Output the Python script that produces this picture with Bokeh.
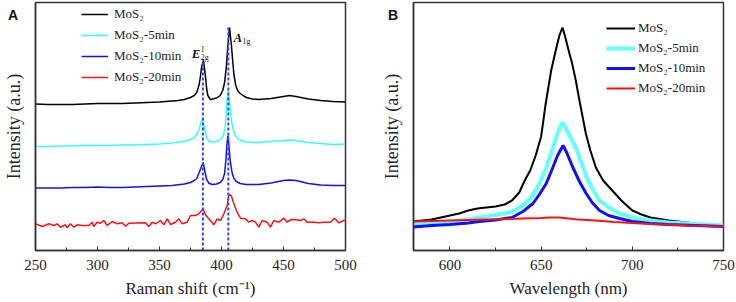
from bokeh.plotting import figure
from bokeh.layouts import row
from bokeh.models import Range1d, Label, Legend, LegendItem, SingleIntervalTicker, FixedTicker, Div
from bokeh.embed import file_html
from bokeh.resources import INLINE

# ---------------- Panel A : Raman ----------------
raman_black_x = [250, 260, 270, 280, 290, 300, 310, 320, 330, 340, 350, 360, 365, 370, 375, 378, 380, 382, 383, 384, 385.5, 387, 388, 389, 391, 393, 396, 399, 401, 402.5, 404, 405, 406.5, 408, 409, 410, 411.5, 413, 415, 418, 420, 425, 430, 440, 450, 455, 460, 470, 480, 490, 500]
raman_black_y = [146.5, 146, 146, 146, 146.5, 147, 147, 147, 147.5, 148, 148.5, 149.5, 150, 151, 153, 155, 158, 166, 174, 184, 190, 175, 162, 155, 151, 151.5, 152.5, 155, 160, 168, 185, 203, 223, 205, 190, 176, 165, 160, 157, 154.5, 153, 151.5, 151, 152, 154, 155, 154, 151.5, 150, 149, 148.5]

raman_cyan_x = [250, 260, 270, 280, 290, 300, 310, 320, 330, 340, 350, 360, 370, 375, 378, 380, 382, 383.5, 384.5, 386, 388, 390, 393, 396, 399, 401, 402.5, 403.5, 404.5, 405.3, 406.5, 408, 409.5, 411, 413, 416, 420, 430, 440, 450, 455, 460, 470, 480, 490, 500]
raman_cyan_y = [104, 104, 104.5, 104.5, 105, 105, 105, 105.5, 105.5, 106, 106.5, 107.5, 109, 111, 113, 116, 122, 128, 131, 124, 113, 109, 108.5, 109, 111, 114, 120, 132, 150, 160, 148, 130, 120, 115, 112, 110, 108.5, 108, 109, 110, 110.5, 110, 108, 107, 106, 106.5]

raman_blue_x = [250, 260, 270, 280, 290, 300, 310, 320, 330, 340, 350, 360, 370, 375, 378, 380, 382, 383.5, 385.2, 386.5, 388, 390, 393, 396, 399, 401, 402.5, 403.5, 404.5, 405.2, 406, 407, 408.5, 410, 412, 415, 420, 430, 440, 450, 455, 460, 470, 480, 490, 500]
raman_blue_y = [62.5, 62.5, 62.5, 63, 63, 63.5, 63, 63, 63.5, 64, 64.5, 65, 66.5, 68, 70, 72, 78, 83, 88, 80, 71, 67, 66, 66.5, 68, 71, 77, 90, 108, 115, 105, 90, 78, 72, 69, 67, 66, 66, 67.5, 70, 70.5, 70, 67, 65.5, 65, 65]

raman_red_x = [250, 255.4, 260.8, 264.8, 267.5, 270.2, 274.2, 275.5, 278.2, 280.9, 283.6, 287.6, 293, 295.7, 297, 299.7, 302.4, 305.1, 307.8, 311.8, 315.9, 319.9, 322.6, 325.3, 338.7, 341.4, 344.1, 346.8, 350.8, 353.5, 356.2, 358.9, 362.9, 365.6, 368.3, 372.3, 375, 379, 381.7, 385.2, 387, 389.8, 393.8, 396.5, 399.2, 401.9, 404.6, 405.9, 407.8, 410, 412.6, 415.3, 419.4, 422, 424.7, 427.4, 430.1, 432.8, 436.8, 439.5, 442.2, 446.2, 450.3, 453, 455.6, 459.7, 463.7, 466.4, 469.1, 474.5, 478.5, 482.5, 487.9, 491.1, 494.6, 498.7, 500]
raman_red_y = [26.7, 24, 26.7, 25, 26.7, 23.3, 25.7, 22.7, 26.7, 23.3, 25.7, 25, 25, 28.3, 24, 28.3, 27.3, 30, 25, 29, 26.7, 27.7, 24.3, 27.3, 27.7, 24, 28.3, 26.7, 30, 25.7, 31.7, 26, 28.3, 31.7, 26.7, 28.3, 35, 35, 36.7, 41.7, 35.7, 31.7, 25.7, 31.7, 30, 36.7, 45, 55.7, 55, 46.7, 38.3, 32.3, 31.7, 28.3, 30, 28.3, 23.3, 30, 28.3, 23.3, 30, 28.3, 32.3, 28.3, 30.7, 31, 30, 31.7, 28.3, 28.3, 27.7, 28.3, 28.3, 32.3, 27.7, 30, 30.3]

peak_pos = [385, 405.5]
peak_top = [191, 225]
raman_ticks = [250, 300, 350, 400, 450, 500]

# ---------------- Panel B : PL ----------------
pl_black_x = [580, 590, 600, 605, 610, 615, 620, 625, 630, 634, 638, 641, 644, 647, 650, 652.5, 655.5, 658, 660, 661.7, 663, 665.5, 667, 669, 671, 674.5, 677, 680, 684, 689, 694, 700, 705, 710, 720, 730, 740, 750]
pl_black_y = [29, 31, 35, 37, 40, 42, 43, 44, 46, 50, 58, 70, 80, 95, 114, 147, 180, 200, 215, 223, 215, 197, 187, 170, 150, 117, 100, 83, 70, 60, 50, 40, 36, 33, 30, 28, 26, 25]

pl_cyan_x = [580, 590, 600, 610, 616, 625, 634, 640, 644, 647, 649, 651, 653, 655, 657, 659, 661.5, 663, 665, 667, 669, 672, 675, 678, 682, 687, 693, 702, 710, 720, 730, 740, 750]
pl_cyan_y = [26, 27.5, 29, 31, 33, 35.5, 38.5, 45, 52, 60, 67, 75, 84, 95, 106, 117, 128, 124, 117, 110, 103, 88, 73, 62, 50, 43, 37, 32, 30, 28, 27, 26, 25]

pl_blue_x = [580, 590, 600, 610, 616, 625, 634, 640, 645.5, 649, 652.8, 656.4, 659, 662, 664, 667.4, 671, 674.7, 678, 682, 687, 693, 700, 710, 720, 735, 750]
pl_blue_y = [23.5, 25, 26, 27.5, 29, 30.5, 33, 39, 47, 56, 67, 83, 95, 105, 98, 83, 69, 57, 48, 40, 35, 32, 29, 27, 26, 25, 24]

pl_red_x = [580, 590, 600, 610, 620, 630, 640, 650, 655, 660, 665, 670, 680, 690, 700, 710, 720, 730, 740, 750]
pl_red_y = [29, 29.5, 30, 30.5, 31, 31.5, 32, 32.5, 33, 33, 32, 31, 30, 28.5, 27.5, 26.5, 26, 25, 24.5, 24]

pl_ticks = [600, 650, 700, 750]

labels = ["MoS\u2082", "MoS\u2082-5min", "MoS\u2082-10min", "MoS\u2082-20min"]
panel_letters = ["A", "B"]
colors = ["#000000", "#33FFFF", "#1010FF", "#FF1010"]

SERIF = "Liberation Serif"


def style(p, ticks, ylab_standoff):
    p.outline_line_color = "#333333"
    p.outline_line_width = 1.5
    p.xgrid.visible = False
    p.ygrid.visible = False
    p.background_fill_color = "white"
    p.border_fill_color = "white"
    ax = p.xaxis[0]
    ax.ticker = SingleIntervalTicker(interval=50, num_minor_ticks=2)
    ax.major_tick_in = 4
    ax.major_tick_out = 0
    ax.minor_tick_in = 3
    ax.minor_tick_out = 0
    ax.axis_line_width = 1.5
    ax.axis_line_color = "#333333"
    ax.major_tick_line_color = "#333333"
    ax.minor_tick_line_color = "#333333"
    ax.major_label_text_font = SERIF
    ax.major_label_text_font_size = "15px"
    ax.major_label_text_color = "#222222"
    ax.major_label_standoff = 9
    ax.axis_label_text_font = SERIF
    ax.axis_label_text_font_size = "17px"
    ax.axis_label_text_font_style = "normal"
    ax.axis_label_text_color = "#222222"
    ax.axis_label_standoff = 6
    ay = p.yaxis[0]
    ay.ticker = FixedTicker(ticks=[])
    ay.axis_line_width = 1.5
    ay.axis_line_color = "#333333"
    ay.axis_label = "Intensity (a.u.)"
    ay.axis_label_text_font = SERIF
    ay.axis_label_text_font_size = "18px"
    ay.axis_label_text_font_style = "normal"
    ay.axis_label_text_color = "#222222"
    ay.axis_label_standoff = ylab_standoff
    ay.major_tick_out = 0
    ay.major_tick_in = 0
    ay.minor_tick_out = 0
    ay.minor_tick_in = 0


# Panel A
pa = figure(width=370, height=302, output_backend="svg", toolbar_location=None,
            x_range=Range1d(250, 500), y_range=Range1d(0, 248),
            min_border_left=35, min_border_right=25, min_border_top=2, min_border_bottom=52,
            x_axis_label="Raman shift (cm\u207b\u00b9)")
style(pa, raman_ticks, 12)

ra = []
ra.append(pa.line(raman_black_x, raman_black_y, line_color=colors[0], line_width=1.5))
ra.append(pa.line(raman_cyan_x, raman_cyan_y, line_color=colors[1], line_width=1.5))
ra.append(pa.line(raman_blue_x, raman_blue_y, line_color=colors[2], line_width=1.5))
ra.append(pa.line(raman_red_x, raman_red_y, line_color=colors[3], line_width=1.5))
pa.segment(x0=peak_pos, y0=[0, 0], x1=peak_pos, y1=peak_top,
           line_color="#3344FF", line_width=2, line_dash="3 2")

legA = Legend(items=[LegendItem(label=l, renderers=[r]) for l, r in zip(labels, ra)],
              location=(46, 165), orientation="vertical")
legA.border_line_color = None
legA.background_fill_alpha = 0
legA.glyph_width = 27
legA.glyph_height = 16
legA.label_standoff = 6
legA.spacing = 5
legA.padding = 0
legA.margin = 0
legA.label_text_font = SERIF
legA.label_text_font_size = "13px"
legA.label_text_color = "#222222"
legA.label_height = 16
pa.add_layout(legA, "center")

lab_kw = dict(text_font=SERIF, text_color="#111111", text_baseline="middle")
pa.add_layout(Label(x=376, y=197, text="E", text_font_size="13px", text_font_style="bold italic", **lab_kw))
pa.add_layout(Label(x=376, y=197, x_offset=9, y_offset=5, text="1", text_font_size="8px", **lab_kw))
pa.add_layout(Label(x=376, y=197, x_offset=9, y_offset=-4, text="2g", text_font_size="8px", **lab_kw))
pa.add_layout(Label(x=409.7, y=213, text="A", text_font_size="13px", text_font_style="bold italic", **lab_kw))
pa.add_layout(Label(x=409.7, y=213, x_offset=9, y_offset=-4, text="1g", text_font_size="8px", **lab_kw))

# Panel B
pb = figure(width=366, height=302, output_backend="svg", toolbar_location=None,
            x_range=Range1d(580, 750), y_range=Range1d(0, 248),
            min_border_left=43, min_border_right=13, min_border_top=2, min_border_bottom=52,
            x_axis_label="Wavelength (nm)")
style(pb, pl_ticks, 12)

rb = []
rb.append(pb.line(pl_black_x, pl_black_y, line_color=colors[0], line_width=2))
rb.append(pb.line(pl_cyan_x, pl_cyan_y, line_color="#66FFFF", line_width=4))
rb.append(pb.line(pl_blue_x, pl_blue_y, line_color="#1010FF", line_width=3))
rb.append(pb.line(pl_red_x, pl_red_y, line_color=colors[3], line_width=2))

legB = Legend(items=[LegendItem(label=l, renderers=[r]) for l, r in zip(labels, rb)],
              location=(193, 154), orientation="vertical")
legB.border_line_color = None
legB.background_fill_alpha = 0
legB.glyph_width = 29
legB.glyph_height = 16
legB.label_standoff = 3
legB.spacing = 4
legB.padding = 0
legB.margin = 0
legB.label_text_font = SERIF
legB.label_text_font_size = "13px"
legB.label_text_color = "#222222"
legB.label_height = 16
pb.add_layout(legB, "center")

letter_style = {"font-family": "Liberation Sans", "font-weight": "bold", "font-size": "14px",
                "color": "#111111", "line-height": "14px"}
divA = Div(text=panel_letters[0], width=14, height=16,
           styles={"position": "absolute", "left": "3px", "top": "3px", **letter_style})
divB = Div(text=panel_letters[1], width=14, height=16,
           styles={"position": "absolute", "left": "383px", "top": "3px", **letter_style})

layout = row(pa, pb, divA, divB)
open("out.html", "w").write(file_html(layout, INLINE))
